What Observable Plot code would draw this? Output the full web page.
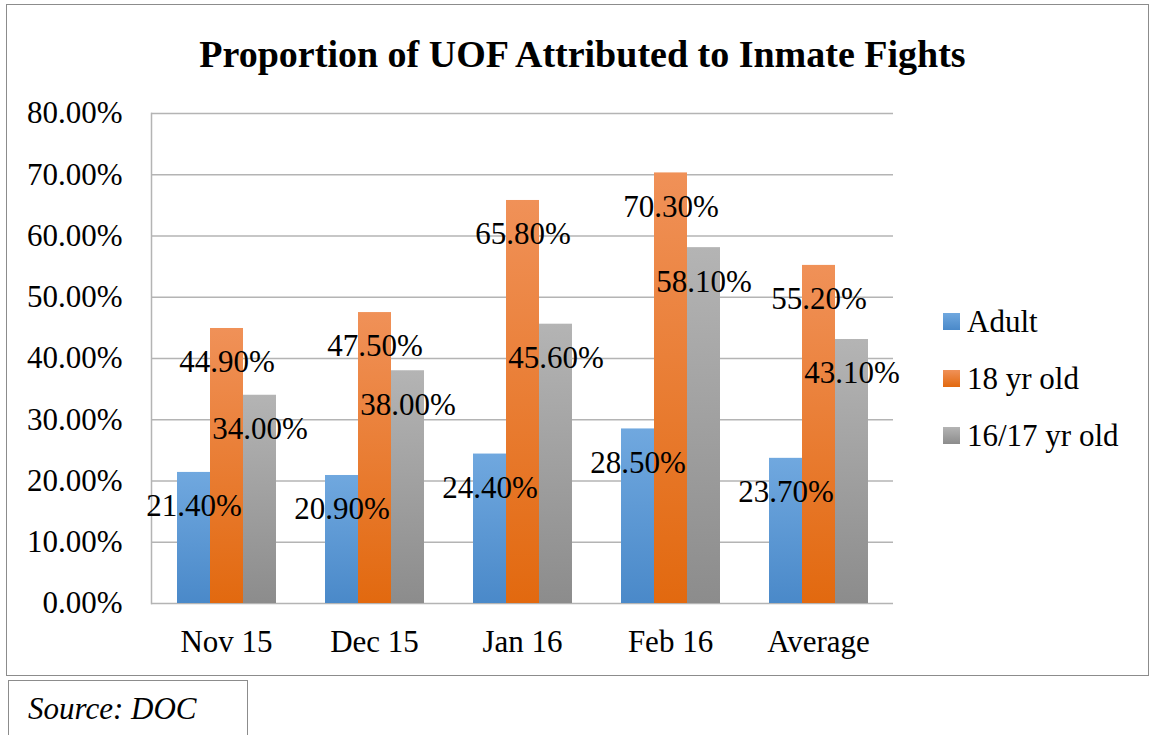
<!DOCTYPE html>
<html>
<head>
<meta charset="utf-8">
<script src="https://cdn.jsdelivr.net/npm/d3@7"></script>
<script src="https://cdn.jsdelivr.net/npm/@observablehq/plot@0.6"></script>
<style>
  html, body { margin: 0; padding: 0; background: #fff; }
  #wrap { position: relative; width: 1151px; height: 735px; overflow: hidden; font-family: "Liberation Serif", "Times New Roman", serif; color: #000; }
  #frame { position: absolute; left: 6px; top: 4px; width: 1143px; height: 672px; border: 1.5px solid #8c8c8c; box-sizing: border-box; }
  #title { position: absolute; left: 0; top: 35px; width: 1165px; text-align: center; font-weight: bold; font-size: 38px; line-height: 1; }
  .plot { position: absolute; left: 0; top: 0; }
  .plot text { font-family: "Liberation Serif", "Times New Roman", serif; }
  #legend { position: absolute; left: 943px; top: 306px; }
  .sw { position: absolute; left: 0; width: 17px; height: 17px; }
  .lt { position: absolute; left: 24px; white-space: nowrap; font-size: 31px; line-height: 1; }
  #source { position: absolute; left: 8px; top: 680px; width: 240px; height: 70px; border: 1.5px solid #8c8c8c; box-sizing: border-box; }
  #source span { position: absolute; left: 19px; top: 12px; font-style: italic; font-size: 31px; line-height: 1; white-space: nowrap; }
</style>
</head>
<body>
<div id="wrap">
  <div id="frame"></div>
  <div id="title">Proportion of UOF Attributed to Inmate Fights</div>
  <div id="plots"></div>
  <div id="legend"></div>
  <div id="source"><span>Source: DOC</span></div>
</div>
<script>
const categories = ["Nov 15", "Dec 15", "Jan 16", "Feb 16", "Average"];
const seriesNames = ["Adult", "18 yr old", "16/17 yr old"];
const adult = [21.4, 20.9, 24.4, 28.5, 23.7];
const eighteen = [44.9, 47.5, 65.8, 70.3, 55.2];
const sixteen17 = [34.0, 38.0, 45.6, 58.1, 43.1];
const yTicks = [0, 10, 20, 30, 40, 50, 60, 70, 80];

const gradients = [
  {id: "gAdult", top: "#70a8df", bottom: "#4a89c9"},
  {id: "g18", top: "#f09158", bottom: "#e2690f"},
  {id: "g1617", top: "#b4b4b4", bottom: "#8c8c8c"}
];

const valuesBySeries = [adult, eighteen, sixteen17];
const rows = [];
seriesNames.forEach((s, si) => {
  categories.forEach((c, ci) => rows.push({category: c, series: s, value: valuesBySeries[si][ci]}));
});

const W = 910, H = 680;
const margins = {marginLeft: 151, marginTop: 113, marginRight: 17, marginBottom: 77};
const pInner = 0.326, pOuter = 0.163;
const gridColor = "#b4b4b4";
const font = "Liberation Serif";

const back = Plot.plot({
  width: W, height: H, ...margins,
  style: {fontSize: "31px", fontFamily: font, color: "#000", background: "transparent"},
  x: {type: "band", domain: categories, paddingInner: pInner, paddingOuter: pOuter, label: null},
  y: {domain: [0, 80], label: null},
  marks: [
    Plot.ruleY(yTicks, {stroke: gridColor, strokeWidth: 1.5}),
    Plot.frame({anchor: "left", stroke: gridColor, strokeWidth: 1.5}),
    Plot.axisY({ticks: yTicks, tickSize: 0, tickPadding: 29, tickFormat: d => d.toFixed(2) + "%", fontSize: 31, fontFamily: font, label: null}),
    Plot.axisX({tickSize: 0, tickPadding: 26, fontSize: 31, fontFamily: font, label: null})
  ]
});
back.classList.add("plot");

const front = Plot.plot({
  width: W, height: H, ...margins,
  style: {fontSize: "31px", fontFamily: font, color: "#000", background: "transparent"},
  fx: {domain: categories, paddingInner: pInner, paddingOuter: pOuter, axis: null, label: null},
  x: {domain: seriesNames, padding: 0, axis: null},
  y: {domain: [0, 80], axis: null},
  color: {domain: seriesNames, range: gradients.map(g => `url(#${g.id})`)},
  marks: [
    Plot.barY(rows, {fx: "category", x: "series", y: "value", fill: "series"}),
    Plot.text(rows, {fx: "category", x: "series", y: "value", text: d => d.value.toFixed(2) + "%", dy: 34, fontSize: 31, fontFamily: font, fill: "#000"})
  ]
});
front.classList.add("plot");

const defs = d3.select(front).insert("defs", ":first-child");
gradients.forEach(g => {
  const lg = defs.append("linearGradient").attr("id", g.id).attr("x1", 0).attr("y1", 0).attr("x2", 0).attr("y2", 1);
  lg.append("stop").attr("offset", "0%").attr("stop-color", g.top);
  lg.append("stop").attr("offset", "100%").attr("stop-color", g.bottom);
});

document.getElementById("plots").append(back, front);

const legend = document.getElementById("legend");
seriesNames.forEach((s, i) => {
  const top = i * 57;
  const sw = document.createElement("div");
  sw.className = "sw";
  sw.style.top = (top + 7) + "px";
  sw.style.background = `linear-gradient(${gradients[i].top}, ${gradients[i].bottom})`;
  const t = document.createElement("div");
  t.className = "lt";
  t.style.top = top + "px";
  t.textContent = s;
  legend.append(sw, t);
});
</script>
</body>
</html>
